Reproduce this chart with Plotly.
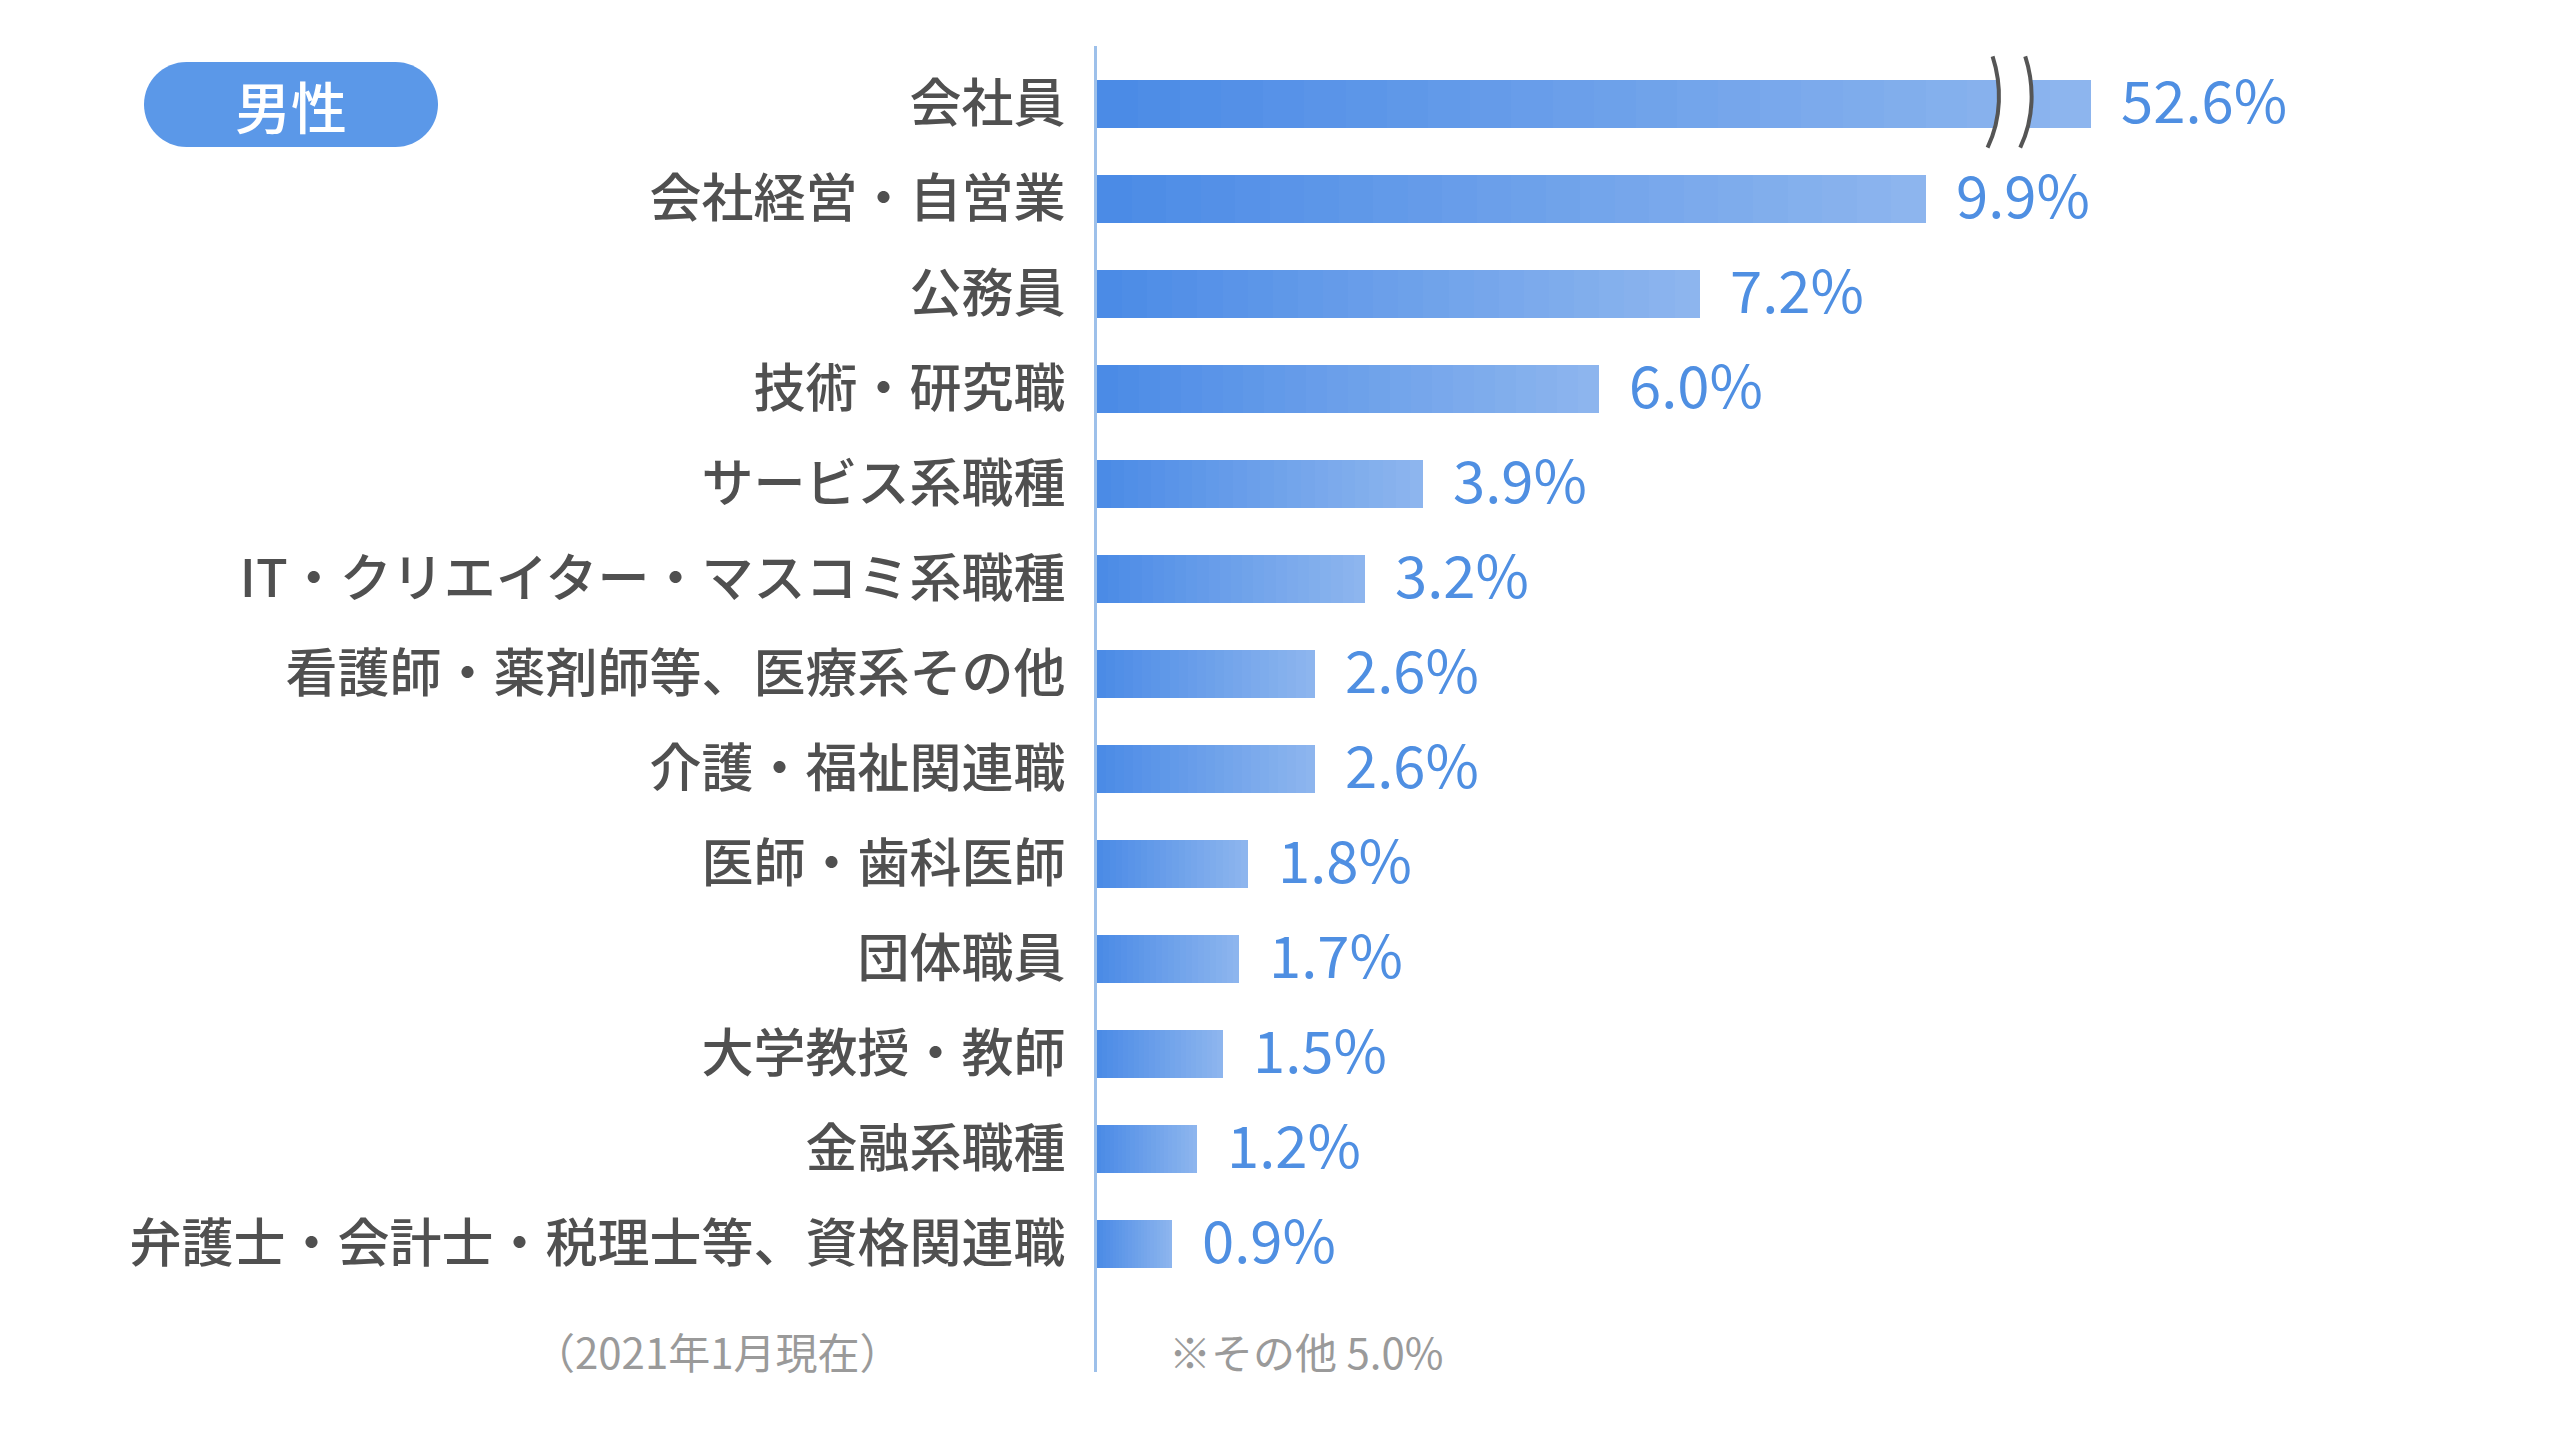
import plotly.graph_objects as go

categories = ["会社員", "会社経営・自営業", "公務員", "技術・研究職", "サービス系職種",
              "IT・クリエイター・マスコミ系職種", "看護師・薬剤師等、医療系その他",
              "介護・福祉関連職", "医師・歯科医師", "団体職員", "大学教授・教師",
              "金融系職種", "弁護士・会計士・税理士等、資格関連職"]
values = [52.6, 9.9, 7.2, 6.0, 3.9, 3.2, 2.6, 2.6, 1.8, 1.7, 1.5, 1.2, 0.9]
badge_text = "男性"
note_left = "（2021年1月現在）"
note_right = "※その他 5.0%"

BREAK_CAP = 11.88  # displayed length of the broken (truncated) bar
display = [min(v, BREAK_CAP) for v in values]

W, H = 2560, 1443
OFF = 8  # page body margin
L, R, T, B = 1097 - OFF, 2460 - OFF, 46 - OFF, 1372 - OFF
PX_PER_UNIT = 83.7
XMAX = (R - L) / PX_PER_UNIT
YTOP, YBOT = -0.61, 13.35

FONT = "Noto Sans CJK JP"
dark = (0x4a, 0x8a, 0xe6)
light = (0x8e, 0xb6, 0xee)


def mix(t):
    c = [round(dark[i] + (light[i] - dark[i]) * t) for i in range(3)]
    return f"rgb({c[0]},{c[1]},{c[2]})"


fig = go.Figure()
ypos = list(range(len(categories)))
N = 24
for k in range(N, 0, -1):
    fig.add_trace(go.Bar(
        x=[d * k / N for d in display], y=ypos, orientation="h",
        width=0.505, marker=dict(color=mix((k - 0.5) / N), line=dict(width=0)),
        hoverinfo="skip", showlegend=False))

for d, v, y in zip(display, values, ypos):
    fig.add_annotation(x=d, y=y, xref="x", yref="y", text=f"{v}%", showarrow=False,
                       xanchor="left", yanchor="middle", xshift=28, yshift=6,
                       font=dict(family=FONT, size=58, color="#4f8fe2"))

# break mark on the first bar
x1a, x1c, x1b = 10.70, 10.81, 10.64
off = 0.39
yt, yb = -0.50, 0.46
curve1 = f"M {x1a},{yt} C {x1c},{-0.2} {x1c},{0.15} {x1b},{yb}"
curve2 = f"M {x1a+off},{yt} C {x1c+off},{-0.2} {x1c+off},{0.15} {x1b+off},{yb}"
gap = (f"M {x1a},{yt} C {x1c},{-0.2} {x1c},{0.15} {x1b},{yb} "
       f"L {x1b+off},{yb} C {x1c+off},{0.15} {x1c+off},{-0.2} {x1a+off},{yt} Z")
fig.add_shape(type="path", path=gap, xref="x", yref="y", fillcolor="white",
              line=dict(width=0), layer="above")
for p in (curve1, curve2):
    fig.add_shape(type="path", path=p, xref="x", yref="y",
                  line=dict(color="#555555", width=4), layer="above")


def px(xp):
    return (xp - OFF - L) / (R - L)


def py(yp):
    return (B - (yp - OFF)) / (B - T)


# badge pill
bx0, bx1, by0, by1 = 144, 438, 62, 147
r = (by1 - by0) / 2
k = 0.5523 * r
pill = (f"M {px(bx0+r)},{py(by0)} L {px(bx1-r)},{py(by0)} "
        f"C {px(bx1-r+k)},{py(by0)} {px(bx1)},{py(by0+r-k)} {px(bx1)},{py(by0+r)} "
        f"C {px(bx1)},{py(by0+r+k)} {px(bx1-r+k)},{py(by1)} {px(bx1-r)},{py(by1)} "
        f"L {px(bx0+r)},{py(by1)} "
        f"C {px(bx0+r-k)},{py(by1)} {px(bx0)},{py(by0+r+k)} {px(bx0)},{py(by0+r)} "
        f"C {px(bx0)},{py(by0+r-k)} {px(bx0+r-k)},{py(by0)} {px(bx0+r)},{py(by0)} Z")
fig.add_shape(type="path", path=pill, xref="paper", yref="paper",
              fillcolor="#5b98e8", line=dict(width=0))
fig.add_annotation(x=px((bx0 + bx1) / 2), y=py((by0 + by1) / 2), xref="paper", yref="paper",
                   text=badge_text, showarrow=False, xanchor="center", yanchor="middle",
                   font=dict(family=FONT, size=56, color="white", weight=500))

fig.add_annotation(x=0, y=py(1350), xref="paper", yref="paper", text=note_left,
                   showarrow=False, xanchor="right", yanchor="middle", xshift=-193,
                   font=dict(family=FONT, size=42, color="#9a9a9a"))
fig.add_annotation(x=0, y=py(1350), xref="paper", yref="paper", text=note_right,
                   showarrow=False, xanchor="left", yanchor="middle", xshift=70,
                   font=dict(family=FONT, size=42, color="#9a9a9a"))

fig.update_layout(
    width=W, height=H, barmode="overlay", bargap=0,
    paper_bgcolor="white", plot_bgcolor="white",
    margin=dict(l=L, r=W - R, t=T, b=H - B, autoexpand=False),
    xaxis=dict(range=[0, XMAX], visible=False, fixedrange=True),
    yaxis=dict(range=[YBOT, YTOP], tickmode="array", tickvals=ypos, ticktext=categories,
               showgrid=False, zeroline=False, showline=True, linecolor="#9dc0ea",
               linewidth=3, ticks="", ticklabelstandoff=18,
               tickfont=dict(family=FONT, size=52, color="#505050", weight=500)),
    font=dict(family=FONT),
)

fig.write_html("out.html")
